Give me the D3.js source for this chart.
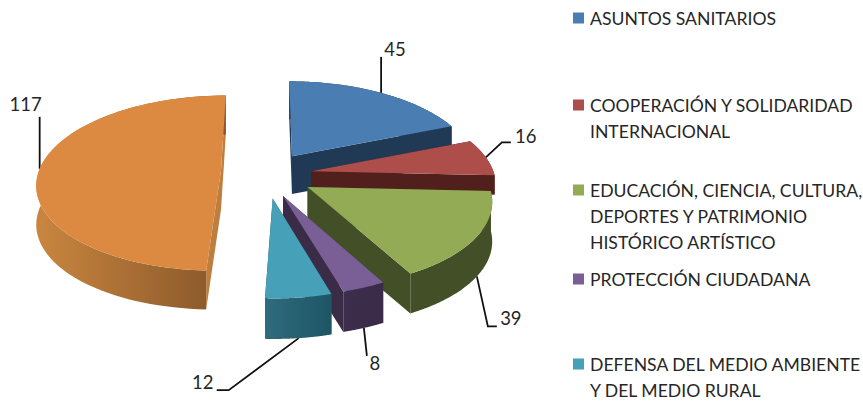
<!DOCTYPE html>
<html><head><meta charset="utf-8">
<style>html,body{margin:0;background:#fff;overflow:hidden}text{font-family:Lato,"Open Sans",sans-serif;fill:#262626}</style>
<script src="https://cdn.jsdelivr.net/npm/d3@7"></script></head><body>
<svg id="c" width="863" height="401"></svg>
<script>
const categories = ["ASUNTOS SANITARIOS","COOPERACIÓN Y SOLIDARIDAD INTERNACIONAL","EDUCACIÓN, CIENCIA, CULTURA, DEPORTES Y PATRIMONIO HISTÓRICO ARTÍSTICO","PROTECCIÓN CIUDADANA","DEFENSA DEL MEDIO AMBIENTE Y DEL MEDIO RURAL","OTROS"];
const values = [45,16,39,8,12,117];
const topColors = ["#4A7DB1","#AE4E4A","#93AB55","#7A5F96","#46A0B8","#DC8A42"];
const sideFrom = ["#203A55","#52201C","#434F26","#3C2E4C","#2E6C7D","#C9863F"];
const sideTo = ["#203A55","#52201C","#434F26","#3A2C47","#1E5564","#87562A"];
const cutColors = ["#203A55","#52201C","#434F26","#3A2C47","#1F4F5C","#BE7E3D"];
const legendLines = [["ASUNTOS SANITARIOS"],["COOPERACIÓN Y SOLIDARIDAD","INTERNACIONAL"],["EDUCACIÓN, CIENCIA, CULTURA,","DEPORTES Y PATRIMONIO","HISTÓRICO ARTÍSTICO"],["PROTECCIÓN CIUDADANA"],["DEFENSA DEL MEDIO AMBIENTE","Y DEL MEDIO RURAL"]];

// layout
const cx=265, cy=175, R=182, Ry=85.7, P=0.143, EXPLODE=48, DEPTH=39, LEAN=0.8;
const legendY=[18.5,105.5,190.5,279.5,364.5];
const nudges=[[0,0],[-1,0],[2,0],[0,0],[2,1],[4,-4]];
const depthScale=[1,0.5,1,1,1,1];
// leader elbows and label offsets relative to the slice's rim anchor
const leaders=[
 {low:false,pts:[[0,-36]],lab:[14,-37]},
 {low:false,pts:[[16,-15],[25,-15]],lab:[40,-14]},
 {low:true,pts:[[11,50],[20,50]],lab:[34,49]},
 {low:true,pts:[[3,28]],lab:[11,42]},
 {low:true,pts:[[-70,52],[-82,52]],lab:[-96,51]},
 {low:false,pts:[[0,-52]],lab:[-14,-58]}
];
const svg=d3.select("#c");
const defs=svg.append("defs");
const arcs=d3.pie().sort(null).value(d=>d)(values);
const line=d3.line();

function pt(d,i,a,r=1){
  const mid=(d.startAngle+d.endAngle)/2;
  const ex=EXPLODE*Math.sin(mid), ey=EXPLODE/R*Math.cos(mid);
  const u=r*Math.sin(a), v=r*Math.cos(a);
  const s=1/(1+P*v);
  return [cx+nudges[i][0]+ex*(1+LEAN*(s-1))+R*u*s, cy+nudges[i][1]-Ry*ey-Ry*v*s];
}
function depthOf(d,i){
  const mid=(d.startAngle+d.endAngle)/2;
  return depthScale[i]*DEPTH/(1+P*(EXPLODE/R)*Math.cos(mid));
}
// leaders and labels sit under the slices
arcs.forEach((d,i)=>{
  const mid=(d.startAngle+d.endAngle)/2;
  const a=pt(d,i,mid);
  const l=leaders[i];
  if(l.low) a[1]+=depthOf(d,i);
  const pts=[a].concat(l.pts.map(p=>[a[0]+p[0],a[1]+p[1]]));
  svg.append("path").attr("d",line(pts)).attr("fill","none").attr("stroke","#111").attr("stroke-width",1.8);
  svg.append("text").attr("x",a[0]+l.lab[0]).attr("y",a[1]+l.lab[1]).attr("text-anchor","middle").attr("font-size",18.5).text(values[i]);
});
arcs.forEach((d,i)=>{
  const g=svg.append("g");
  const dep=depthOf(d,i);
  const down=p=>[p[0],p[1]+dep];
  const apex=pt(d,i,0,0);
  const rim=d3.range(0,81).map(k=>pt(d,i,d.startAngle+(d.endAngle-d.startAngle)*k/80));
  const first=rim[0], last=rim[rim.length-1];
  const id="g"+i;
  const lg=defs.append("linearGradient").attr("id",id);
  lg.append("stop").attr("offset","0").attr("stop-color",sideFrom[i]);
  lg.append("stop").attr("offset","1").attr("stop-color",sideTo[i]);
  [first,last].forEach(c=>{
    g.append("path").attr("d",line([apex,c,down(c),down(apex)])+"Z").attr("fill",cutColors[i]);
  });
  g.append("path").attr("d",line(rim.concat(rim.slice().reverse().map(down)))+"Z").attr("fill",`url(#${id})`);
  g.append("path").attr("d",line([apex].concat(rim))+"Z").attr("fill",topColors[i]);
});
// legend
legendLines.forEach((ls,i)=>{
  svg.append("rect").attr("x",573).attr("y",legendY[i]-6).attr("width",11).attr("height",11).attr("fill",topColors[i]);
  ls.forEach((t,j)=>{
    svg.append("text").attr("x",590).attr("y",legendY[i]+6+j*26).attr("font-size",17.6).text(t);
  });
});
</script></body></html>
